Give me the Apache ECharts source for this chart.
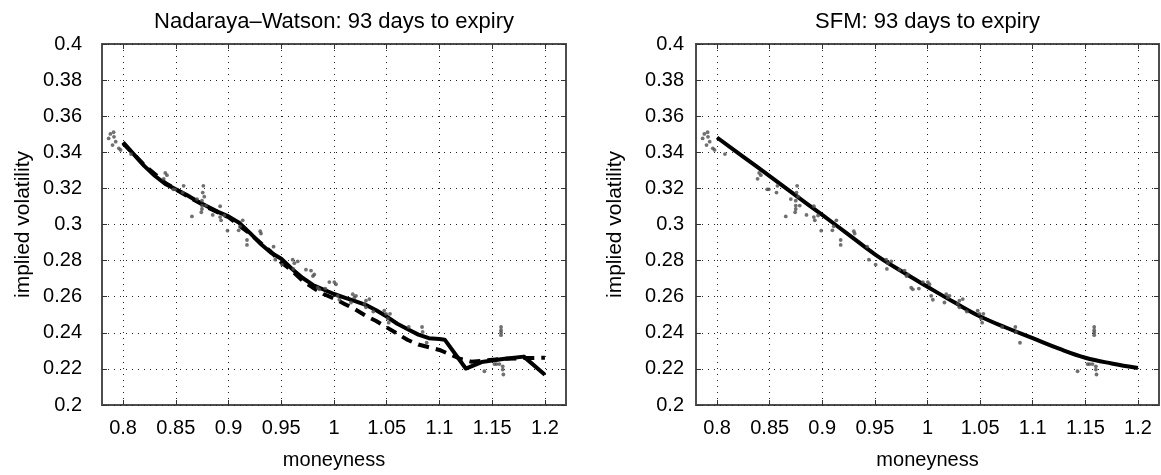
<!DOCTYPE html>
<html>
<head>
<meta charset="utf-8">
<script src="https://cdn.jsdelivr.net/npm/echarts@6/dist/echarts.min.js"></script>
<style>
  html, body { margin: 0; padding: 0; background: #fff; }
  #chart { width: 1161px; height: 475px; }
</style>
</head>
<body>
<div id="chart"></div>
<script>
// Tick positions
const xTicks = [0.8, 0.85, 0.9, 0.95, 1, 1.05, 1.1, 1.15, 1.2];
const yTicks = [0.2, 0.22, 0.24, 0.26, 0.28, 0.3, 0.32, 0.34, 0.36, 0.38, 0.4];

// Observed implied volatilities (moneyness, iv)
const obsMoneyness = [
  0.7863, 0.7879, 0.7910, 0.7914, 0.7900, 0.7930, 0.7960, 0.7976, 0.8075,
  0.8385, 0.8400, 0.8416, 0.8476, 0.8492, 0.8565, 0.8574, 0.8653, 0.8701,
  0.8742, 0.8748, 0.8748, 0.8748, 0.8755, 0.8761, 0.8770, 0.8786, 0.8850,
  0.8920, 0.8920, 0.8929, 0.8960, 0.8990, 0.9096, 0.9109, 0.9134, 0.9175,
  0.9175, 0.9300, 0.9308, 0.9427, 0.9443, 0.9507, 0.9608, 0.9624, 0.9614,
  0.9656, 0.9734, 0.9782, 0.9813, 0.9800, 0.9845, 0.9861, 0.9918, 0.9956,
  1.0003, 1.0019, 1.0035, 1.0051, 1.0161, 1.0178, 1.0193, 1.0209, 1.0288,
  1.0303, 1.0303, 1.0335, 1.0373, 1.0477, 1.0493, 1.0510, 1.0519, 1.0531,
  1.0709, 1.0835, 1.0841, 1.0879, 1.1426, 1.1521, 1.1540, 1.1568, 1.1584,
  1.1584, 1.1584, 1.1584, 1.1600, 1.1600, 1.1606
];
const obsVol = [
  0.3477, 0.3502, 0.3511, 0.3486, 0.3440, 0.3459, 0.3422, 0.3413, 0.3390,
  0.3253, 0.3286, 0.3273, 0.3195, 0.3195, 0.3177, 0.3214, 0.3045, 0.3141,
  0.3068, 0.3086, 0.3105, 0.3132, 0.3177, 0.3214, 0.3154, 0.3105, 0.3053,
  0.3101, 0.3041, 0.3023, 0.3050, 0.2966, 0.2968, 0.2990, 0.3023, 0.2914,
  0.2887, 0.2963, 0.2950, 0.2877, 0.2805, 0.2778, 0.2805, 0.2786, 0.2754,
  0.2796, 0.2750, 0.2745, 0.2723, 0.2714, 0.2650, 0.2641, 0.2645, 0.2681,
  0.2681, 0.2669, 0.2605, 0.2583, 0.2568, 0.2614, 0.2596, 0.2605, 0.2560,
  0.2578, 0.2541, 0.2587, 0.2518, 0.2523, 0.2505, 0.2478, 0.2456, 0.2505,
  0.2432, 0.2432, 0.2405, 0.2345, 0.2187, 0.2227, 0.2227, 0.2227, 0.2432,
  0.2414, 0.2401, 0.2387, 0.2214, 0.2196, 0.2169
];

// Nadaraya-Watson estimate (solid)
const nwMoneyness = [
  0.800, 0.810, 0.820, 0.830, 0.840, 0.850, 0.860, 0.870, 0.880, 0.890,
  0.900, 0.910, 0.920, 0.930, 0.940, 0.950, 0.960, 0.970, 0.980, 0.990,
  1.000, 1.010, 1.020, 1.030, 1.040, 1.050, 1.060, 1.070, 1.080, 1.090,
  1.100, 1.105, 1.125, 1.140, 1.160, 1.180, 1.200
];
const nwVol = [
  0.3455, 0.3390, 0.3325, 0.3270, 0.3225, 0.3195, 0.3165, 0.3130, 0.3100, 0.3070,
  0.3045, 0.3010, 0.2955, 0.2895, 0.2845, 0.2810, 0.2755, 0.2705, 0.2665, 0.2640,
  0.2615, 0.2595, 0.2575, 0.2555, 0.2525, 0.2490, 0.2450, 0.2420, 0.2390, 0.2370,
  0.2365, 0.2362, 0.2202, 0.2238, 0.2255, 0.2268, 0.2168
];

// Second estimate (dashed)
const nwAltMoneyness = [
  0.800, 0.820, 0.840, 0.860, 0.880, 0.900, 0.920, 0.940, 0.950, 0.960,
  0.970, 0.980, 0.990, 1.000, 1.010, 1.020, 1.030, 1.040, 1.050, 1.060,
  1.070, 1.080, 1.090, 1.100, 1.110, 1.120, 1.130, 1.140, 1.160, 1.180, 1.200
];
const nwAltVol = [
  0.3450, 0.3330, 0.3230, 0.3160, 0.3095, 0.3040, 0.2950, 0.2850, 0.2790, 0.2745,
  0.2690, 0.2650, 0.2615, 0.2590, 0.2560, 0.2530, 0.2495, 0.2465, 0.2430, 0.2395,
  0.2360, 0.2335, 0.2320, 0.2305, 0.2280, 0.2255, 0.2240, 0.2245, 0.2255, 0.2260, 0.2262
];

// SFM fit
const sfmMoneyness = [
  0.800, 0.825, 0.850, 0.875, 0.900, 0.925, 0.950, 0.975, 1.000,
  1.025, 1.050, 1.075, 1.100, 1.125, 1.150, 1.175, 1.200
];
const sfmVol = [
  0.3482, 0.3375, 0.3268, 0.3160, 0.3053, 0.2944, 0.2835, 0.2742, 0.2655,
  0.2570, 0.2490, 0.2428, 0.2370, 0.2312, 0.2262, 0.2230, 0.2205
];

const titles = ['Nadaraya\u2013Watson: 93 days to expiry', 'SFM: 93 days to expiry'];
const xName = 'moneyness';
const yName = 'implied volatility';

const FONT = '"Liberation Sans", Arial, Helvetica, sans-serif';
const pairs = (xs, ys) => xs.map((x, i) => [x, ys[i]]);
const trim = v => String(+(+v).toFixed(3));

const grids = [
  { left: 102, top: 44, width: 464, height: 367 },
  { left: 696, top: 44, width: 463, height: 367 }
];
const yLabelMargin = [20, 12];

const dotted = { type: [1, 5], color: '#222', width: 1 };

const xAxes = [], yAxes = [];
grids.forEach((g, gi) => {
  xAxes.push({
    type: 'value', gridIndex: gi, position: 'bottom', min: 0.78, max: 1.22,
    axisLine: { show: false },
    axisTick: { inside: true, length: 5, customValues: xTicks, lineStyle: { color: '#333', width: 1 } },
    axisLabel: { customValues: xTicks, formatter: trim, color: '#000', fontSize: 20, fontFamily: FONT, margin: 13 },
    splitLine: { show: true, lineStyle: dotted },
    name: xName, nameLocation: 'middle', nameGap: 45,
    nameTextStyle: { color: '#000', fontSize: 20, fontFamily: FONT }
  });
  xAxes.push({
    type: 'value', gridIndex: gi, position: 'top', min: 0.78, max: 1.22,
    axisLine: { show: false },
    axisTick: { inside: true, length: 5, customValues: xTicks, lineStyle: { color: '#333', width: 1 } },
    axisLabel: { show: false, customValues: xTicks },
    splitLine: { show: false }
  });
  yAxes.push({
    type: 'value', gridIndex: gi, position: 'left', min: 0.2, max: 0.4, interval: 0.02,
    axisLine: { show: false },
    axisTick: { inside: true, length: 5, lineStyle: { color: '#333', width: 1 } },
    axisLabel: { formatter: trim, color: '#000', fontSize: 20, fontFamily: FONT, margin: yLabelMargin[gi] },
    splitLine: { show: true, lineStyle: dotted },
    name: yName, nameLocation: 'middle', nameGap: gi === 0 ? 68 : 70, nameRotate: 90,
    nameTextStyle: { color: '#000', fontSize: 21, fontFamily: FONT }
  });
  yAxes.push({
    type: 'value', gridIndex: gi, position: 'right', min: 0.2, max: 0.4, interval: 0.02,
    axisLine: { show: false },
    axisTick: { inside: true, length: 5, lineStyle: { color: '#333', width: 1 } },
    axisLabel: { show: false },
    splitLine: { show: false }
  });
});

const scatterStyle = (gi) => ({
  type: 'scatter', xAxisIndex: gi * 2, yAxisIndex: gi * 2,
  data: pairs(obsMoneyness, obsVol), symbol: 'circle', symbolSize: 3.8,
  itemStyle: { color: '#4d4d4d' }, silent: true, z: 5
});
const lineSeries = (gi, xs, ys, dash, smooth) => ({
  type: 'line', xAxisIndex: gi * 2, yAxisIndex: gi * 2,
  data: pairs(xs, ys), showSymbol: false, smooth: smooth || false,
  lineStyle: { color: '#000', width: 4, type: dash ? [11, 7] : 'solid', cap: 'butt', join: 'round' },
  silent: true, animation: false, z: 3
});

const chart = echarts.init(document.getElementById('chart'), null, { renderer: 'canvas' });
chart.setOption({
  animation: false,
  backgroundColor: '#fff',
  grid: grids.map(g => Object.assign({ show: true, borderColor: '#4d4d4d', borderWidth: 2, backgroundColor: 'transparent', containLabel: false }, g)),
  xAxis: xAxes,
  yAxis: yAxes,
  graphic: titles.map((t, i) => ({
    type: 'text',
    x: grids[i].left + grids[i].width / 2,
    y: 11,
    style: { text: t, textAlign: 'center', textVerticalAlign: 'top', fontSize: 22, fontFamily: FONT, fill: '#000' }
  })),
  series: [
    lineSeries(0, nwAltMoneyness, nwAltVol, true),
    lineSeries(0, nwMoneyness, nwVol, false),
    scatterStyle(0),
    lineSeries(1, sfmMoneyness, sfmVol, false, 0.4),
    scatterStyle(1)
  ]
});
</script>
</body>
</html>
